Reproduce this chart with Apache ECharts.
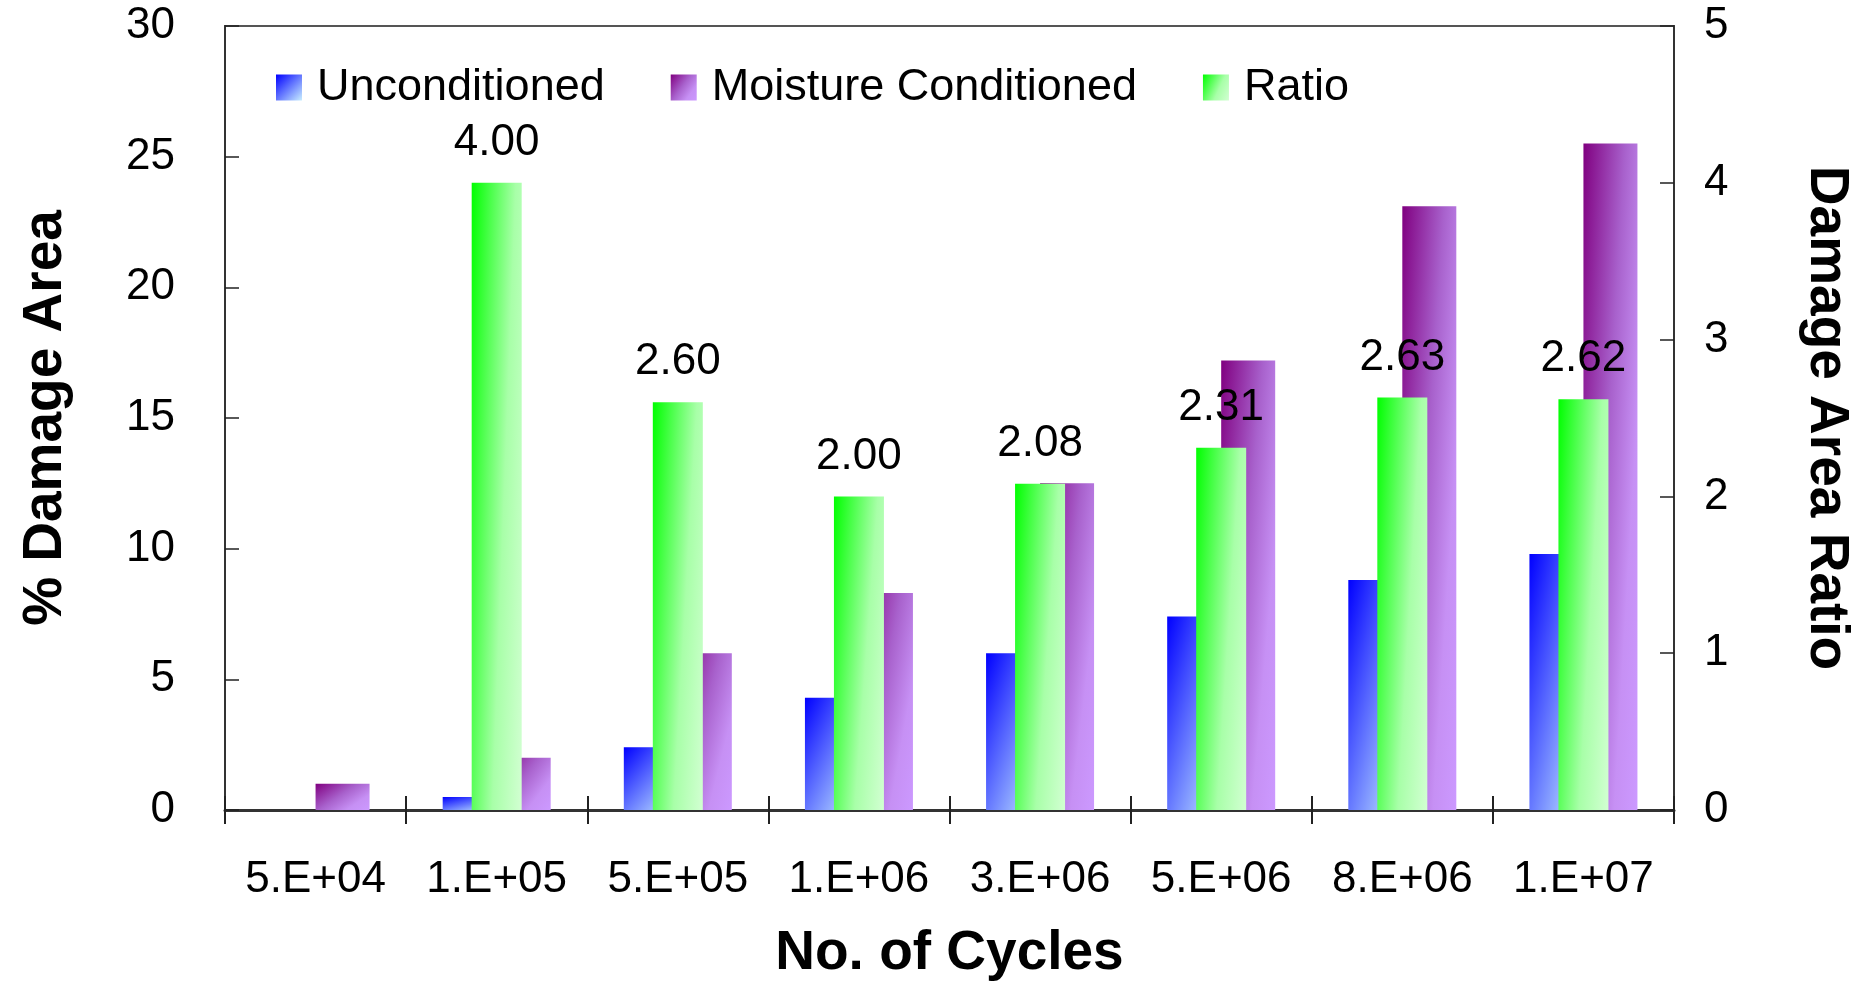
<!DOCTYPE html>
<html>
<head>
<meta charset="utf-8">
<script src="https://cdn.jsdelivr.net/npm/echarts@6/dist/echarts.min.js"></script>
<style>
  html, body { margin: 0; padding: 0; background: #fff; }
  #chart { width: 1860px; height: 982px; }
</style>
</head>
<body>
<div id="chart"></div>
<script>
// Number of load cycles (category axis)
const categories = ['5.E+04', '1.E+05', '5.E+05', '1.E+06', '3.E+06', '5.E+06', '8.E+06', '1.E+07'];
// % damage area, left axis
const unconditioned = [0, 0.5, 2.4, 4.3, 6.0, 7.4, 8.8, 9.8];
const moistureConditioned = [1.0, 2.0, 6.0, 8.3, 12.5, 17.2, 23.1, 25.5];
// Damage area ratio, right axis
const ratio = [null, 4.00, 2.60, 2.00, 2.08, 2.31, 2.63, 2.62];
// Axis ranges
const leftAxisRange = { min: 0, max: 30, interval: 5 };
const rightAxisRange = { min: 0, max: 5, interval: 1 };

const FONT = '"Liberation Sans", Arial, sans-serif';
const AXIS_COLOR = '#333';
const PAIR_BAR_W = 54;
const RATIO_BAR_W = 50;

// Colour ramps: blend from top-left corner toward bottom-right corner of each bar
const ramps = {
  u: { a: 0.5, stops: [[0, '#0000ff'], [1, '#c8eeff']] },
  m: { a: 0.58, stops: [[0, '#800080'], [0.45, '#a861cc'], [0.75, '#c690f4'], [1, '#cc99ff']] },
  r: { a: 0.68, stops: [[0, '#00ff00'], [0.6, '#a8ffa8'], [1, '#d2ffd2']] }
};

// t = a*u + (1-a)*v in the bar's own box (u, v normalised)
function boxGradient(ramp, w, h) {
  const a = ramp.a, b = 1 - ramp.a;
  h = Math.max(h, 1);
  const x2 = a / (a * a + b * b * (w * w) / (h * h));
  const y2 = b / (a * a * (h * h) / (w * w) + b * b);
  return new echarts.graphic.LinearGradient(0, 0, x2, y2,
    ramp.stops.map(s => ({ offset: s[0], color: s[1] })));
}

const chart = echarts.init(document.getElementById('chart'), null, { renderer: 'canvas' });

const baseAxisLabel = { color: '#000', fontSize: 44, fontFamily: FONT };
const nameStyle = { color: '#000', fontSize: 55, fontWeight: 'bold', fontFamily: FONT };

function buildOption(uData, mData, rData) {
  return {
    backgroundColor: '#fff',
    animation: false,
    textStyle: { fontFamily: FONT },
    grid: {
      left: 225, right: 186, top: 26, bottom: 172,
      containLabel: false, outerBoundsMode: 'none',
      show: true, borderColor: '#555', borderWidth: 2, backgroundColor: 'transparent'
    },
    legend: {
      left: 271, top: 60,
      itemWidth: 26, itemHeight: 26, itemGap: 66,
      icon: 'rect',
      selectedMode: false,
      textStyle: { color: '#000', fontSize: 45, fontFamily: FONT, padding: [0, 0, 0, 10] },
      data: [
        { name: 'Unconditioned', itemStyle: { color: boxGradient(ramps.u, 26, 26) } },
        { name: 'Moisture Conditioned', itemStyle: { color: boxGradient(ramps.m, 26, 26) } },
        { name: 'Ratio', itemStyle: { color: boxGradient(ramps.r, 26, 26) } }
      ]
    },
    xAxis: [
      {
        type: 'category', data: categories, position: 'bottom',
        axisLine: { show: true, lineStyle: { color: AXIS_COLOR, width: 3 } },
        axisTick: { show: true, inside: false, length: 14, interval: 0, lineStyle: { color: '#222', width: 2 } },
        axisLabel: Object.assign({ margin: 48, interval: 0, hideOverlap: false }, baseAxisLabel),
        name: 'No. of Cycles', nameLocation: 'middle', nameGap: 116, nameTextStyle: nameStyle,
        splitLine: { show: false }
      },
      {
        type: 'category', data: categories, position: 'bottom',
        axisLine: { show: false },
        axisTick: { show: true, inside: true, length: 14, interval: 0, lineStyle: { color: '#222', width: 2 } },
        axisLabel: { show: false, interval: 0 },
        splitLine: { show: false }
      }
    ],
    yAxis: [
      {
        type: 'value', position: 'left',
        min: leftAxisRange.min, max: leftAxisRange.max, interval: leftAxisRange.interval,
        axisLine: { show: true, lineStyle: { color: AXIS_COLOR, width: 2 } },
        axisTick: { show: true, inside: true, length: 14, lineStyle: { color: '#222', width: 1.5 } },
        axisLabel: Object.assign({ margin: 50 }, baseAxisLabel),
        splitLine: { show: false },
        name: '% Damage Area', nameLocation: 'middle', nameGap: 152, nameRotate: 90,
        nameTextStyle: nameStyle
      },
      {
        type: 'value', position: 'right',
        min: rightAxisRange.min, max: rightAxisRange.max, interval: rightAxisRange.interval,
        axisLine: { show: true, lineStyle: { color: AXIS_COLOR, width: 2 } },
        axisTick: { show: true, inside: true, length: 14, lineStyle: { color: '#222', width: 1.5 } },
        axisLabel: Object.assign({ margin: 30 }, baseAxisLabel),
        splitLine: { show: false },
        name: 'Damage Area Ratio', nameLocation: 'middle', nameGap: 125, nameRotate: -90,
        nameTextStyle: nameStyle
      }
    ],
    series: [
      {
        name: 'Unconditioned', type: 'bar', xAxisIndex: 0, yAxisIndex: 0,
        barWidth: PAIR_BAR_W, barGap: '0%', z: 2,
        itemStyle: { color: '#3050ff' },
        data: uData
      },
      {
        name: 'Moisture Conditioned', type: 'bar', xAxisIndex: 0, yAxisIndex: 0,
        barWidth: PAIR_BAR_W, barGap: '0%', z: 2,
        itemStyle: { color: '#a860d0' },
        data: mData
      },
      {
        name: 'Ratio', type: 'bar', xAxisIndex: 1, yAxisIndex: 1,
        barWidth: RATIO_BAR_W, z: 3,
        itemStyle: { color: '#66ff66' },
        label: {
          show: true, position: 'top', distance: 18,
          color: '#000', fontSize: 44, fontFamily: FONT,
          formatter: p => (p.value == null ? '' : Number(p.value).toFixed(2))
        },
        data: rData
      }
    ]
  };
}

chart.setOption(buildOption(unconditioned, moistureConditioned, ratio));

// Second pass: shade each bar across its own rendered box
function pixelHeight(yAxisIndex, v) {
  const y0 = chart.convertToPixel({ yAxisIndex }, 0);
  const y1 = chart.convertToPixel({ yAxisIndex }, v);
  return Math.abs(y0 - y1);
}
function shaded(values, yAxisIndex, ramp, w) {
  return values.map(v => (v == null ? null : {
    value: v,
    itemStyle: { color: boxGradient(ramp, w, pixelHeight(yAxisIndex, v)) }
  }));
}

chart.setOption(buildOption(
  shaded(unconditioned, 0, ramps.u, PAIR_BAR_W),
  shaded(moistureConditioned, 0, ramps.m, PAIR_BAR_W),
  shaded(ratio, 1, ramps.r, RATIO_BAR_W)
), true);
</script>
</body>
</html>
